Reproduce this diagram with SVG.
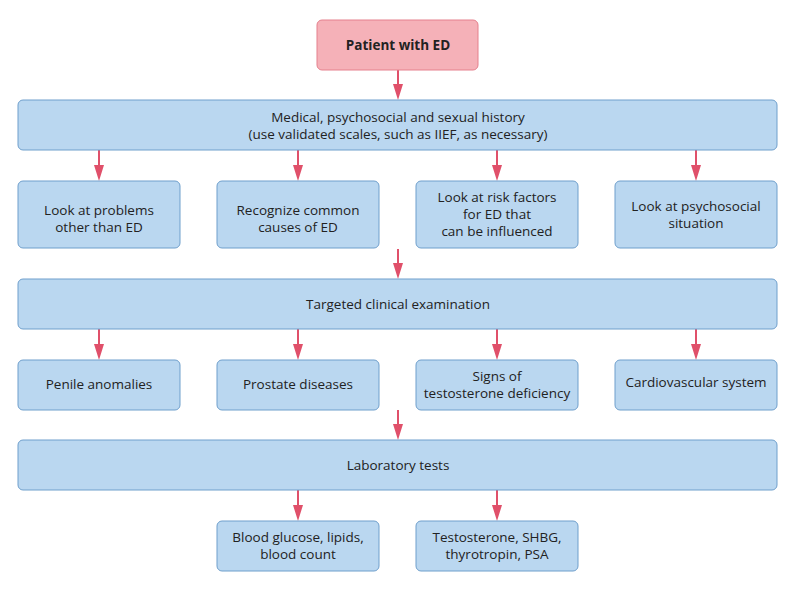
<svg xmlns="http://www.w3.org/2000/svg" width="800" height="593" viewBox="0 0 800 593">
<style>
text{font-family:"Open Sans","Liberation Sans",sans-serif;font-size:13.5px;fill:#222;text-anchor:middle}
.b{fill:#bad7f0;stroke:#6f9fcc;stroke-width:1}
.p{fill:#f5b1b8;stroke:#e5808d;stroke-width:1}
.c line{stroke:#e0506a;stroke-width:2;marker-end:url(#a)}
</style>
<defs><marker id="a" markerWidth="10" markerHeight="14" refX="5" refY="14" orient="auto-start-reverse" markerUnits="userSpaceOnUse" viewBox="0 0 10 14"><path d="M0,0L10,0L5,14Z" fill="#e0506a" transform="rotate(-90 5 7) translate(0 0)"/></marker></defs>
<g class="c">
<path d="M393,84L403,84L398,100Z M94,165L104,165L99,181Z M293,165L303,165L298,181Z M492,165L502,165L497,181Z M691,165L701,165L696,181Z M393,263L403,263L398,279Z M94,344L104,344L99,360Z M293,344L303,344L298,360Z M492,344L502,344L497,360Z M691,344L701,344L696,360Z M393,424L403,424L398,440Z M293,505L303,505L298,521Z M492,505L502,505L497,521Z" fill="#e0506a"/>
<path d="M398,70V86 M99,150V167 M298,150V167 M497,150V167 M696,150V167 M398,249V265 M99,329V346 M298,329V346 M497,329V346 M696,329V346 M398,410V426 M298,490V507 M497,490V507" stroke="#e0506a" stroke-width="2" fill="none"/>
</g>
<g id="patient"><rect class="p" x="317" y="20" width="161" height="50" rx="5"/><text x="398" y="50" font-weight="bold">Patient with ED</text></g>
<g id="history"><rect class="b" x="18" y="100" width="759" height="50" rx="5"/><text x="398" y="122">Medical, psychosocial and sexual history</text><text x="398" y="139">(use validated scales, such as IIEF, as necessary)</text></g>
<g id="n1"><rect class="b" x="18" y="181" width="162" height="67" rx="5"/><text x="99" y="215">Look at problems</text><text x="99" y="232">other than ED</text></g>
<g id="n2"><rect class="b" x="217" y="181" width="162" height="67" rx="5"/><text x="298" y="215">Recognize common</text><text x="298" y="232">causes of ED</text></g>
<g id="n3"><rect class="b" x="416" y="181" width="162" height="67" rx="5"/><text x="497" y="202">Look at risk factors</text><text x="497" y="219">for ED that</text><text x="497" y="236">can be influenced</text></g>
<g id="n4"><rect class="b" x="615" y="181" width="162" height="67" rx="5"/><text x="696" y="211">Look at psychosocial</text><text x="696" y="228">situation</text></g>
<g id="exam"><rect class="b" x="18" y="279" width="759" height="50" rx="5"/><text x="398" y="309">Targeted clinical examination</text></g>
<g id="m1"><rect class="b" x="18" y="360" width="162" height="50" rx="5"/><text x="99" y="389">Penile anomalies</text></g>
<g id="m2"><rect class="b" x="217" y="360" width="162" height="50" rx="5"/><text x="298" y="389">Prostate diseases</text></g>
<g id="m3"><rect class="b" x="416" y="360" width="162" height="50" rx="5"/><text x="497" y="381">Signs of</text><text x="497" y="398">testosterone deficiency</text></g>
<g id="m4"><rect class="b" x="615" y="360" width="162" height="50" rx="5"/><text x="696" y="387">Cardiovascular system</text></g>
<g id="lab"><rect class="b" x="18" y="440" width="759" height="50" rx="5"/><text x="398" y="470">Laboratory tests</text></g>
<g id="l1"><rect class="b" x="217" y="521" width="162" height="50" rx="5"/><text x="298" y="542">Blood glucose, lipids,</text><text x="298" y="559">blood count</text></g>
<g id="l2"><rect class="b" x="416" y="521" width="162" height="50" rx="5"/><text x="497" y="542">Testosterone, SHBG,</text><text x="497" y="559">thyrotropin, PSA</text></g>
</svg>
